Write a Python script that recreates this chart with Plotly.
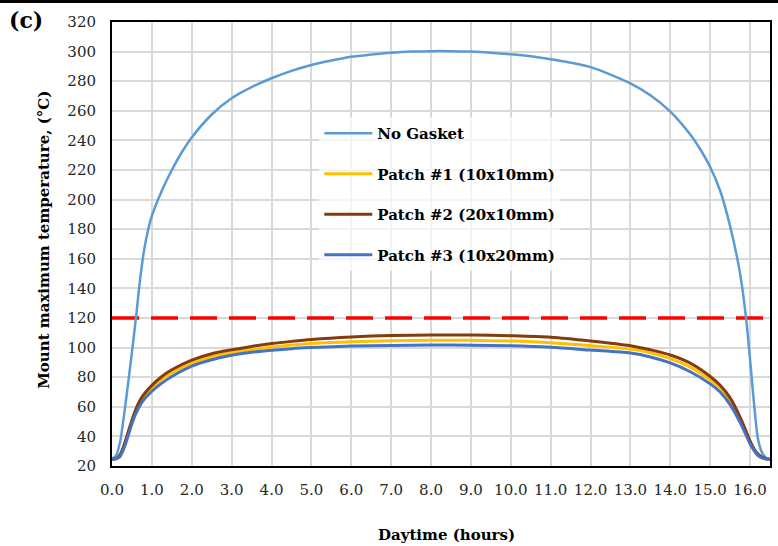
import plotly.graph_objects as go

# Daytime (hours)
t_no_gasket = [0.0, 0.1, 0.2, 0.3, 0.4, 0.5, 0.6, 0.7, 0.8, 0.9, 1.0, 1.25, 1.5, 1.75,
               2.0, 2.5, 3.0, 3.5, 4.0, 4.5, 5.0, 5.5, 6.0, 6.5, 7.0, 7.5, 8.0, 8.5,
               9.0, 9.5, 10.0, 10.5, 11.0, 11.5, 12.0, 12.5, 13.0, 13.5, 14.0, 14.5, 14.75,
               15.0, 15.25, 15.5, 15.75, 15.9, 16.0, 16.1, 16.2, 16.3, 16.4, 16.5]
temp_no_gasket = [25, 27, 36, 54, 75, 97, 120, 145, 165, 179, 189, 206, 220, 232,
                  242, 257.5, 268.5, 276, 282, 287, 291, 294, 296.5, 298, 299.2, 300, 300.3, 300.3,
                  300, 299.3, 298.2, 296.8, 294.8, 292.5, 289.5, 284.5, 278.5, 270.5, 259.5, 244, 234,
                  222, 206, 182, 150, 120, 92, 62, 38, 29, 25.5, 24.5]

t_patch = [0.0, 0.1, 0.2, 0.3, 0.4, 0.5, 0.6, 0.75, 1.0, 1.25, 1.5, 2.0, 2.5, 3.0, 3.5,
           4.0, 4.5, 5.0, 6.0, 7.0, 8.0, 9.0, 10.0, 11.0, 12.0, 13.0, 13.5, 14.0, 14.5,
           15.0, 15.25, 15.5, 15.75, 16.0, 16.1, 16.2, 16.3, 16.4, 16.5]
temp_patch1 = [24.5, 25, 27, 33, 41.5, 50, 57, 64.5, 72.5, 78.5, 83, 89.5, 93.8, 96.5, 98.7,
               100.4, 101.8, 102.8, 104, 104.6, 105, 104.9, 104.4, 103.3, 101.3, 99, 96.5, 92.5, 86.8,
               78, 72.5, 64, 51.5, 36, 31, 27.5, 25.7, 24.8, 24.5]
temp_patch2 = [24.5, 25, 27.5, 34, 42.5, 51, 58.5, 66.5, 74.5, 80.5, 85, 91.5, 95.8, 98.5, 100.8,
               102.7, 104.2, 105.5, 107.2, 108.2, 108.5, 108.5, 108, 107, 104.5, 101.3, 98.5, 95, 89.5,
               80.5, 74.5, 66, 53, 37, 31.5, 28, 26, 25, 24.5]
temp_patch3 = [24.5, 24.8, 26.5, 32, 40, 48.5, 55.5, 63, 70.5, 76, 80.5, 87.5, 91.8, 94.8, 96.8,
               98.2, 99.3, 100, 101, 101.5, 101.7, 101.6, 101.2, 100.2, 98.3, 96.3, 93.7, 89.7, 83.7,
               75.5, 70, 61.5, 49.5, 35, 30.5, 27, 25.5, 24.7, 24.5]

limit_x = [0.0, 16.5]
limit_temp = [120, 120]

x_ticks = [float(i) for i in range(17)]
y_ticks = list(range(20, 321, 20))

FONT = "DejaVu Serif"

fig = go.Figure()

fig.add_trace(go.Scatter(x=limit_x, y=limit_temp, mode="lines", showlegend=False,
                         line=dict(color="#FF0000", width=3.5, dash="27px,12px")))

series = [
    ("No Gasket", t_no_gasket, temp_no_gasket, "#5B9BD5", 2.5),
    ("Patch #1 (10x10mm)", t_patch, temp_patch1, "#FFC000", 3),
    ("Patch #2 (20x10mm)", t_patch, temp_patch2, "#843C0C", 3),
    ("Patch #3 (10x20mm)", t_patch, temp_patch3, "#4472C4", 3),
]
for name, xs, ys, color, w in series:
    fig.add_trace(go.Scatter(x=xs, y=ys, mode="lines", name=name, legendgroup=name,
                             line=dict(color=color, width=w, shape="spline", smoothing=0.8)))

fig.update_xaxes(range=[0, 16.5], tickvals=x_ticks, tickformat=".1f",
                 showgrid=True, gridcolor="#D9D9D9", gridwidth=2,
                 showline=True, linecolor="black", linewidth=2, mirror=True,
                 ticks="", ticklabelstandoff=9, zeroline=False,
                 tickfont=dict(family=FONT, size=15, color="#262626"))
fig.update_yaxes(range=[20, 320], tickvals=y_ticks,
                 showgrid=True, gridcolor="#D9D9D9", gridwidth=2,
                 showline=True, linecolor="black", linewidth=2, mirror=True,
                 ticks="", ticklabelstandoff=11, zeroline=False,
                 tickfont=dict(family=FONT, size=15, color="#262626"))

fig.update_layout(
    width=778, height=546,
    margin=dict(l=112, r=6, t=22, b=80),
    plot_bgcolor="white", paper_bgcolor="white",
    showlegend=True,
    legend=dict(x=0.315, y=0.786, xanchor="left", yanchor="top",
                bgcolor="rgba(255,255,255,0.7)", tracegroupgap=18,
                itemwidth=48,
                font=dict(family=FONT, size=15, color="black", weight="bold")),
    shapes=[dict(type="rect", xref="paper", yref="paper",
                 x0=-0.2, x1=1.02, y0=(466 - 3) / 444, y1=(466 + 2) / 444,
                 fillcolor="black", line=dict(width=0))],
    annotations=[
        dict(text="<b>(c)</b>", xref="paper", yref="paper", x=-112 / 660 + 7 / 660,
             y=(466 - 5) / 444, xanchor="left", yanchor="top", showarrow=False,
             font=dict(family=FONT, size=22, color="black")),
        dict(text="<b>Mount maximum temperature, (°C)</b>", xref="paper", yref="paper",
             x=-(112 - 43) / 660, y=0.51, textangle=-90, showarrow=False,
             xanchor="center", yanchor="middle",
             font=dict(family=FONT, size=15, color="black")),
        dict(text="<b>Daytime (hours)</b>", xref="paper", yref="paper",
             x=(448 - 112) / 660, y=-(535 - 466) / 444, showarrow=False,
             xanchor="center", yanchor="middle",
             font=dict(family=FONT, size=15, color="black")),
    ],
)

fig.write_html("out.html")
